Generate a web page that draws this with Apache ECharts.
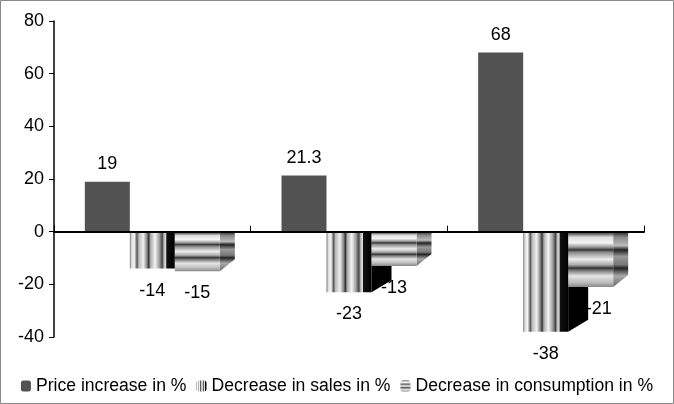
<!DOCTYPE html>
<html><head><meta charset="utf-8">
<script src="https://cdn.jsdelivr.net/npm/echarts@6/dist/echarts.min.js"></script>
<style>html,body{margin:0;padding:0;background:#fff}#c{width:674px;height:404px}</style>
</head><body><div id="c"></div>
<script>
const categories = ['Group 1', 'Group 2', 'Group 3'];
const priceIncrease = [19, 21.3, 68];
const salesDecrease = [-14, -23, -38];
const consumptionDecrease = [-15, -13, -21];
const yTicks = { min: -40, max: 80, interval: 20 };
const seriesNames = ['Price increase in %', 'Decrease in sales in %', 'Decrease in consumption in %'];

const FONT = '"Liberation Sans", Arial, sans-serif';
const BW = 45;

function lg(dir, stops) {
  return new echarts.graphic.LinearGradient(0, 0, dir === 'h' ? 1 : 0, dir === 'h' ? 0 : 1,
    stops.map(s => ({ offset: s[0], color: s[1] })));
}
const salesFill = lg('h', [[0,'#777'],[0.04,'#ddd'],[0.1,'#f5f5f5'],[0.16,'#555'],[0.2,'#bbb'],[0.3,'#f0f0f0'],[0.38,'#888'],[0.42,'#333'],[0.46,'#aaa'],[0.56,'#f5f5f5'],[0.66,'#999'],[0.72,'#444'],[0.76,'#bbb'],[0.8,'#ddd'],[0.82,'#111'],[1,'#000']]);
const consFill = lg('v', [[0,'#333'],[0.04,'#666'],[0.1,'#ddd'],[0.2,'#f5f5f5'],[0.28,'#999'],[0.33,'#333'],[0.37,'#888'],[0.5,'#eee'],[0.6,'#aaa'],[0.66,'#333'],[0.7,'#777'],[0.8,'#e5e5e5'],[0.92,'#bbb'],[1,'#888']]);
const consSide = lg('v', [[0,'#222'],[0.1,'#888'],[0.25,'#bbb'],[0.33,'#222'],[0.45,'#999'],[0.6,'#777'],[0.66,'#222'],[0.8,'#aaa'],[1,'#666']]);

function sideRender(k, dx, dy, fill) {
  return function (params, api) {
    const c = api.coord([api.value(0), 0]);
    const e = api.coord([api.value(0), api.value(1)]);
    const xr = c[0] - 1.5 * BW + (k + 1) * BW;
    return {
      type: 'polygon',
      shape: { points: [[xr, c[1]], [xr, e[1]], [xr + dx, e[1] - dy], [xr + dx, c[1]]] },
      style: { fill: fill }
    };
  };
}

const labelStyle = { show: true, fontFamily: FONT, fontSize: 18, color: '#000' };
const consData = consumptionDecrease.map((v, i) =>
  i === consumptionDecrease.length - 1 ? { value: v, label: { offset: [8, 0] } } : v);

const chart = echarts.init(document.getElementById('c'));
chart.setOption({
  animation: false,
  textStyle: { fontFamily: FONT },
  grid: { left: 54, right: 30, top: 21, bottom: 67 },
  graphic: [{ type: 'rect', shape: { x: 0.5, y: 0.5, width: 673, height: 403 }, style: { fill: 'none', stroke: '#888', lineWidth: 1 }, silent: true }],
  legend: {
    bottom: 4, left: 'center', itemWidth: 10, itemHeight: 11, itemGap: 10,
    textStyle: { fontFamily: FONT, fontSize: 17.6, color: '#000', padding: [0, 0, 0, 0] },
    data: seriesNames
  },
  xAxis: {
    type: 'category', data: categories, z: 10,
    axisLine: { lineStyle: { color: '#000', width: 2 } },
    axisTick: { show: true, inside: true, length: 6, lineStyle: { color: '#000' } },
    axisLabel: { show: false }
  },
  yAxis: {
    type: 'value', min: yTicks.min, max: yTicks.max, interval: yTicks.interval,
    axisLine: { show: true, lineStyle: { color: '#000', width: 1.5 } },
    axisTick: { show: true, length: 5, lineStyle: { color: '#000' } },
    splitLine: { show: false },
    axisLabel: { fontFamily: FONT, fontSize: 18, color: '#000', margin: 10 }
  },
  series: [
    { name: seriesNames[0], type: 'bar', data: priceIncrease, barWidth: BW, barGap: '0%', z: 2,
      itemStyle: { color: '#525252' },
      label: Object.assign({}, labelStyle, { position: 'top', distance: 9 }) },
    { name: seriesNames[1], type: 'bar', data: salesDecrease, barWidth: BW, barGap: '0%', z: 2,
      itemStyle: { color: salesFill },
      label: Object.assign({}, labelStyle, { position: 'bottom', distance: 13 }) },
    { name: seriesNames[2], type: 'bar', data: consData, barWidth: BW, barGap: '0%', z: 3,
      itemStyle: { color: consFill },
      label: Object.assign({}, labelStyle, { position: 'bottom', distance: 13 }) },
    { type: 'custom', silent: true, z: 1, data: salesDecrease.map((v, i) => [i, v]),
      renderItem: sideRender(1, 20, 12, '#000') },
    { type: 'custom', silent: true, z: 3, data: consumptionDecrease.map((v, i) => [i, v]),
      renderItem: sideRender(2, 15, 12, consSide) }
  ]
});
</script></body></html>
